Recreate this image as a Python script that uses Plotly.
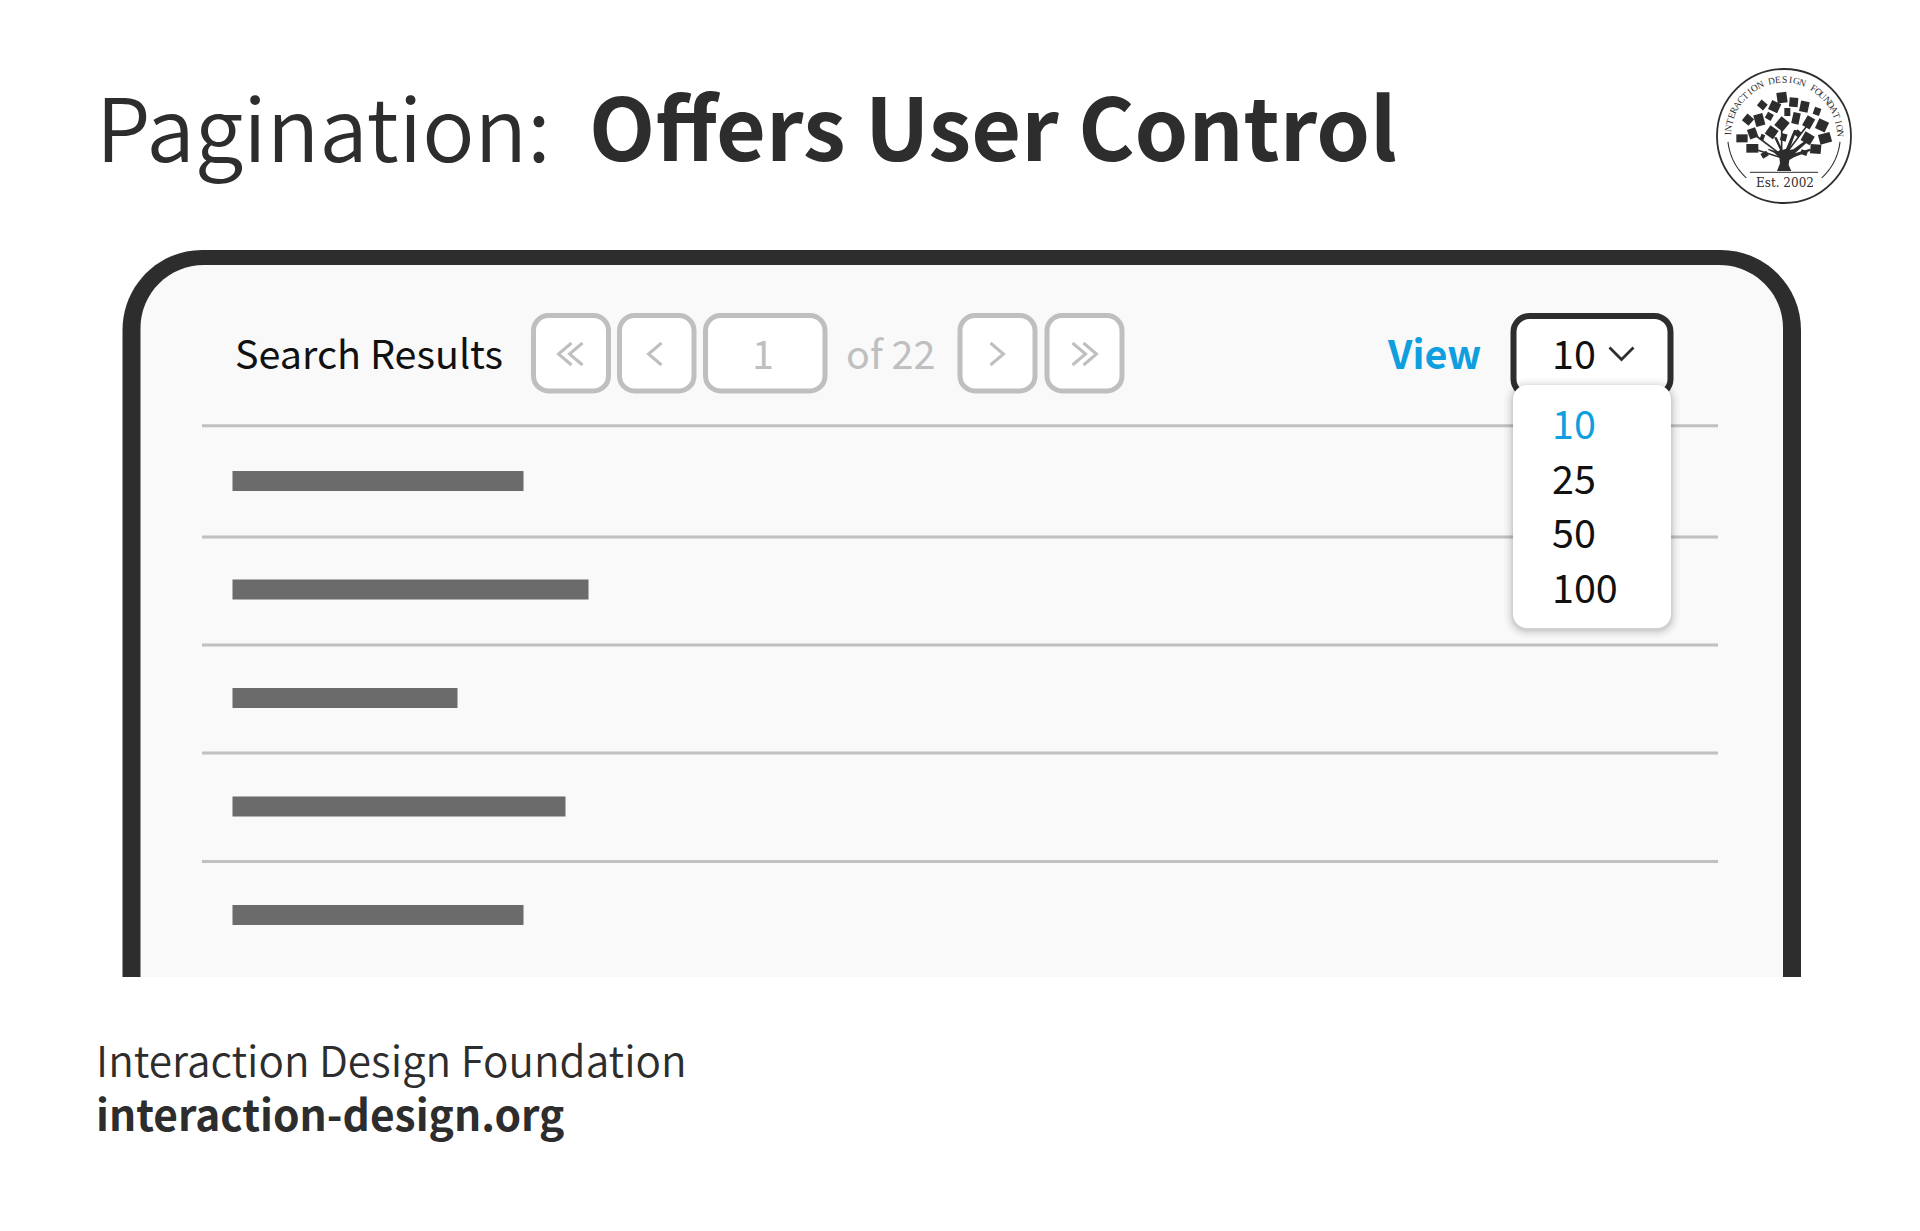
import numpy as np
import plotly.graph_objects as go

# placeholder result rows, bar lengths
row_numbers = [1, 2, 3, 4, 5]
bar_lengths = [291, 356, 225, 333, 291]
view_options = ["10", "25", "50", "100"]
page_total = "of 22"
seal_text = "INTERACTION DESIGN FOUNDATION"

WIDTH, HEIGHT = 1920, 1231
FONT = "Noto Sans CJK SC"
DARK = "#2d2d2d"
GREY = "#bfbfbf"
BLUE = "#0f9fdf"
K = 0.5523

shapes = []
annotations = []


def rounded(x0, y0, x1, y1, r):
    c = r * (1 - K)
    return (f"M{x0+r},{y0} L{x1-r},{y0} C{x1-c},{y0} {x1},{y0+c} {x1},{y0+r} "
            f"L{x1},{y1-r} C{x1},{y1-c} {x1-c},{y1} {x1-r},{y1} "
            f"L{x0+r},{y1} C{x0+c},{y1} {x0},{y1-c} {x0},{y1-r} "
            f"L{x0},{y0+r} C{x0},{y0+c} {x0+c},{y0} {x0+r},{y0} Z")


def add_path(path, fill=None, line=None, width=0):
    shapes.append(dict(type="path", path=path, xref="x", yref="y", layer="below",
                       fillcolor=fill or "rgba(0,0,0,0)",
                       line=dict(color=line or "rgba(0,0,0,0)", width=width)))


def label(x, baseline, text, size, color=DARK, weight=400, anchor="left", family=FONT, angle=0):
    annotations.append(dict(x=x, y=baseline + 0.288 * size + 2.5, text=text, xref="x", yref="y",
                            xanchor=anchor, yanchor="bottom", showarrow=False, borderpad=0,
                            textangle=angle,
                            font=dict(family=family, size=size, color=color, weight=weight)))


def polyline(points):
    return "M" + " L".join(f"{px:.2f},{py:.2f}" for px, py in points)


def button(x0, x1, line=GREY, width=5):
    add_path(rounded(x0, 315.5, x1, 391, 15), fill="#ffffff", line=line, width=width)


def chevron(cx, cy, direction, half_w=6.5, half_h=11, color=GREY, width=3):
    add_path(polyline([(cx - direction * half_w, cy - half_h),
                       (cx + direction * half_w, cy),
                       (cx - direction * half_w, cy + half_h)]), line=color, width=width)


# device frame, open at the bottom
outer = (f"M122.5,977 L122.5,330 C122.5,286 158,250 202,250 L1721,250 "
         f"C1765,250 1801,286 1801,330 L1801,977 Z")
inner = (f"M140.5,977 L140.5,328 C140.5,293 169,265 204,265 L1719,265 "
         f"C1754,265 1783,293 1783,328 L1783,977 Z")
add_path(outer, fill="#2d2d2d")
add_path(inner, fill="#f9f9f9")

# row separators
for y in [425.7, 537, 645, 753, 861.5]:
    shapes.append(dict(type="line", x0=202, x1=1718, y0=y, y1=y, xref="x", yref="y", layer="below",
                       line=dict(color="#c0c0c0", width=3)))

# pager
button(533.5, 608.5)
button(619.5, 694)
button(705.5, 825)
button(960, 1035)
button(1047, 1122)
for off in (0, 11):
    chevron(565 + off, 354, -1)
    chevron(1079 + off, 354, 1)
chevron(655, 354, -1)
chevron(997, 354, 1)

# view select and its open list
add_path(rounded(1513.5, 316, 1670.5, 395, 16), fill="#ffffff", line=DARK, width=6)
add_path(polyline([(1609.5, 347.5), (1621.5, 359.5), (1633.5, 347.5)]), line=DARK, width=2.8)
for grow, alpha in [(9, 0.015), (7, 0.02), (5, 0.03), (3, 0.04), (1.5, 0.06)]:
    add_path(rounded(1513 - grow, 385 - grow + 2, 1671 + grow, 628 + grow + 2, 14 + grow),
             fill=f"rgba(0,0,0,{alpha})")
add_path(rounded(1513, 385, 1671, 628, 14), fill="#ffffff")

# seal
cx, cy = 1784, 136
shapes.append(dict(type="circle", x0=cx - 67, x1=cx + 67, y0=cy - 67, y1=cy + 67, xref="x", yref="y",
                   layer="below", fillcolor="#ffffff", line=dict(color=DARK, width=1.8)))
for a0, a1 in [(174, 132), (6, 48)]:
    ang = np.radians(np.linspace(a0, a1, 24))
    add_path(polyline(list(zip(cx + 56.3 * np.cos(ang), cy + 56.3 * np.sin(ang)))), line=DARK, width=1.1)
add_path(f"M{cx-34},{cy+36.3} L{cx+34},{cy+36.3}", line="#555555", width=1.2)

# seal tree, in crop pixels of the logo
sx = lambda v: 1700 + v / 3
sy = lambda v: 50 + v / 3
add_path(polyline([(sx(a), sy(b)) for a, b in [
    (231, 363), (240, 340), (238, 322), (222, 308), (205, 300), (205, 296), (232, 305), (240, 300), (222, 262),
    (230, 262), (248, 300), (258, 296), (282, 240), (290, 240), (268, 300), (280, 298), (315, 272), (320, 278),
    (285, 310), (330, 296), (332, 302), (282, 322), (268, 330), (266, 345), (274, 363)]]) + " Z", fill=DARK)
for pts in [[(238, 310), (165, 255)], [(240, 322), (155, 295)], [(262, 305), (325, 222)], [(245, 300), (245, 235)]]:
    add_path(polyline([(sx(a), sy(b)) for a, b in pts]), line=DARK, width=1.6)

books = [(246, 143, 30, 32, -8), (187, 165, 24, 22, 40), (224, 170, 30, 30, 25), (281, 157, 26, 28, 5),
         (313, 170, 26, 32, 12), (351, 184, 20, 22, 20), (144, 209, 26, 26, 40), (178, 210, 28, 36, -15),
         (208, 199, 20, 20, 30), (262, 186, 18, 24, 0), (288, 205, 22, 34, 12), (326, 217, 26, 34, 30),
         (366, 226, 32, 32, 25), (246, 222, 32, 34, 40), (158, 250, 26, 30, -20), (215, 247, 30, 30, 35),
         (251, 262, 18, 22, 15), (293, 250, 16, 18, 40), (323, 265, 32, 30, 30), (375, 265, 36, 30, -15),
         (126, 265, 34, 24, 0), (187, 262, 12, 18, 20), (157, 295, 36, 26, 0), (347, 297, 32, 28, 5),
         (194, 314, 20, 16, -30), (312, 308, 20, 14, 20)]
for bx, by, bw, bh, rot in books:
    t = np.radians(rot)
    corners = []
    for dx, dy in [(-bw / 2, -bh / 2), (bw / 2, -bh / 2), (bw / 2, bh / 2), (-bw / 2, bh / 2)]:
        corners.append((sx(bx + dx * np.cos(t) - dy * np.sin(t)), sy(by + dx * np.sin(t) + dy * np.cos(t))))
    add_path(polyline(corners) + " Z", fill=DARK)

n = len(seal_text)
for i, ch in enumerate(seal_text):
    if ch == " ":
        continue
    deg = (i - (n - 1) / 2) * (176 / (n - 1))
    t = np.radians(deg)
    annotations.append(dict(x=cx + 56 * np.sin(t), y=cy - 56 * np.cos(t), text=ch, xref="x", yref="y",
                            showarrow=False, xanchor="center", yanchor="middle", borderpad=0, textangle=deg,
                            font=dict(family="Liberation Serif", size=9.5, color=DARK)))
label(cx + 1, 185.5, "Est. 2002", 12, family="DejaVu Serif", anchor="center")

# text
label(95, 160, "Pagination:", 87, weight=350)
label(588, 160, "Offers User Control", 86, weight=700)
label(234, 367, "Search Results", 39.5, color="#111111")
label(763, 367, "1", 39.5, color=GREY, anchor="center")
label(844.5, 367, page_total, 39.5, color=GREY)
label(1385.5, 367, "View", 39.5, color=BLUE, weight=700)
label(1551, 367, view_options[0], 39.5, color="#111111")
for val, base, col in zip(view_options, [437.5, 492, 546, 601], [BLUE, "#111111", "#111111", "#111111"]):
    label(1551, base, val, 39.5, color=col)
label(95, 1075, "Interaction Design Foundation", 42.3, weight=350)
label(95, 1129, "interaction-design.org", 42.5, weight=700)

# result rows as real bars
row_centers = [481 + (r - 1) * 108.5 for r in row_numbers]
fig = go.Figure(go.Bar(x=bar_lengths, y=row_centers, base=232.5, orientation="h", width=20,
                       marker=dict(color="#6b6b6b", line=dict(width=0)), hoverinfo="skip"))
fig.update_layout(width=WIDTH, height=HEIGHT, margin=dict(l=0, r=0, t=0, b=0),
                  paper_bgcolor="#ffffff", plot_bgcolor="rgba(0,0,0,0)", showlegend=False,
                  shapes=shapes, annotations=annotations,
                  xaxis=dict(range=[0, WIDTH], visible=False, fixedrange=True),
                  yaxis=dict(range=[HEIGHT, 0], visible=False, fixedrange=True))
fig.write_html("out.html", config=dict(displayModeBar=False),
               post_script="document.body.style.margin='0';")
